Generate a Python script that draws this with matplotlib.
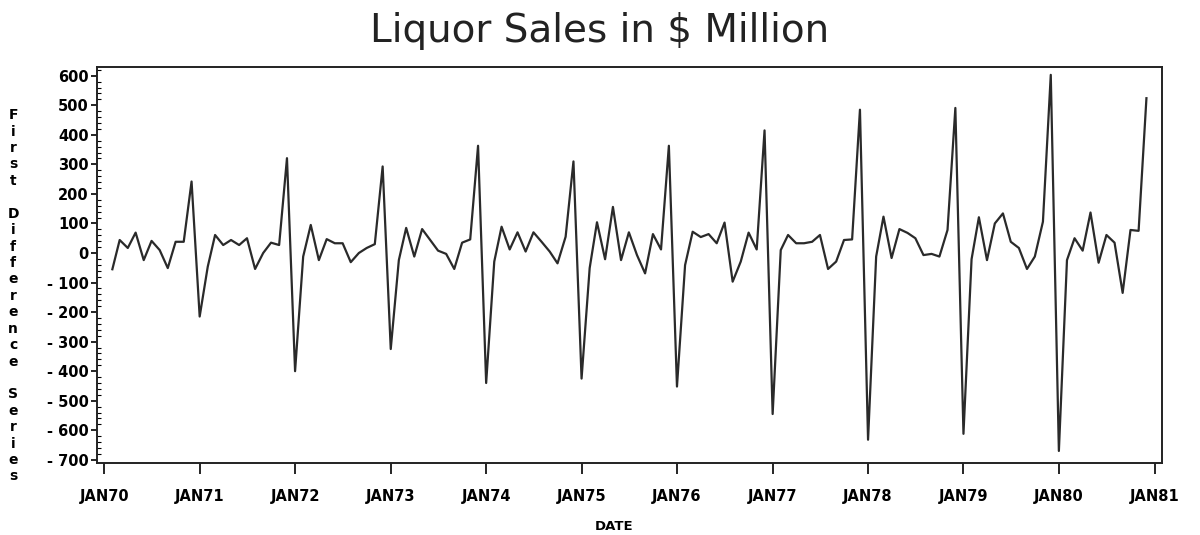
import pandas as pd
import matplotlib.pyplot as plt
from matplotlib.ticker import MultipleLocator

# First differences of monthly liquor sales, Feb 1970 - Dec 1980 (one list per year)
d1970 = [-55, 44, 17, 69, -24, 41, 10, -51, 38, 38, 242]
d1971 = [-215, -46, 61, 27, 44, 27, 50, -54, 0, 35, 27, 321]
d1972 = [-400, -12, 95, -24, 47, 33, 33, -31, 0, 17, 30, 293]
d1973 = [-325, -24, 85, -12, 81, 44, 8, -3, -54, 35, 46, 363]
d1974 = [-440, -29, 89, 12, 70, 5, 70, 38, 5, -35, 55, 310]
d1975 = [-425, -51, 104, -21, 156, -24, 70, -7, -69, 64, 12, 363]
d1976 = [-452, -41, 72, 54, 64, 33, 103, -97, -29, 69, 12, 415]
d1977 = [-545, 10, 61, 33, 33, 38, 61, -54, -29, 44, 46, 485]
d1978 = [-632, -12, 123, -17, 81, 68, 50, -7, -3, -12, 78, 491]
d1979 = [-612, -21, 121, -24, 100, 134, 38, 17, -54, -12, 106, 603]
d1980 = [-670, -24, 50, 8, 137, -33, 61, 35, -135, 78, 75, 524]

diffs = (d1970 + d1971 + d1972 + d1973 + d1974 + d1975 + d1976
         + d1977 + d1978 + d1979 + d1980)
dates = pd.date_range("1970-02-01", periods=len(diffs), freq="MS")

tick_years = list(range(1970, 1982))
x_labels = ["JAN70", "JAN71", "JAN72", "JAN73", "JAN74", "JAN75", "JAN76",
            "JAN77", "JAN78", "JAN79", "JAN80", "JAN81"]
y_ticks = list(range(600, -800, -100))
y_labels = ["600", "500", "400", "300", "200", "100", "0", "- 100", "- 200",
            "- 300", "- 400", "- 500", "- 600", "- 700"]

fig = plt.figure(figsize=(12, 5.35), dpi=100)
ax = fig.add_axes([0.081, 0.135, 0.887, 0.74])

ax.plot(dates, diffs, color="#2a2a2a", linewidth=1.6)

x_ticks = [pd.Timestamp(f"{y}-01-01") for y in tick_years]
ax.set_xticks(x_ticks)
ax.set_xticklabels(x_labels, fontsize=10.5, fontweight="bold", fontstretch="expanded")
ax.set_xlim(pd.Timestamp("1969-12-05"), pd.Timestamp("1981-01-28"))

ax.set_yticks(y_ticks)
ax.set_yticklabels(y_labels, fontsize=10.5, fontweight="bold")
ax.yaxis.set_minor_locator(MultipleLocator(20))
ax.set_ylim(-710, 630)

ax.tick_params(axis="x", direction="out", length=8, width=1.2, pad=11)
ax.tick_params(axis="y", which="major", direction="out", length=4, width=1.2, pad=2)
ax.tick_params(axis="y", which="minor", direction="in", length=3, width=0.8)
for s in ax.spines.values():
    s.set_linewidth(1.4)
    s.set_color("#222222")

fig.text(0.5, 0.942, "Liquor Sales in $ Million", ha="center", va="center",
         fontsize=28, color="#222222")
fig.text(0.512, 0.016, "DATE", ha="center", va="center", fontsize=9.5,
         fontweight="bold")

# vertical axis title, one upright letter per line
ylab = "First Difference Series"
fig.text(0.011, 0.447, "\n".join(ylab), ha="center", va="center",
         fontsize=10, fontweight="bold", linespacing=1.22)

fig.savefig("out.png", dpi=100)
